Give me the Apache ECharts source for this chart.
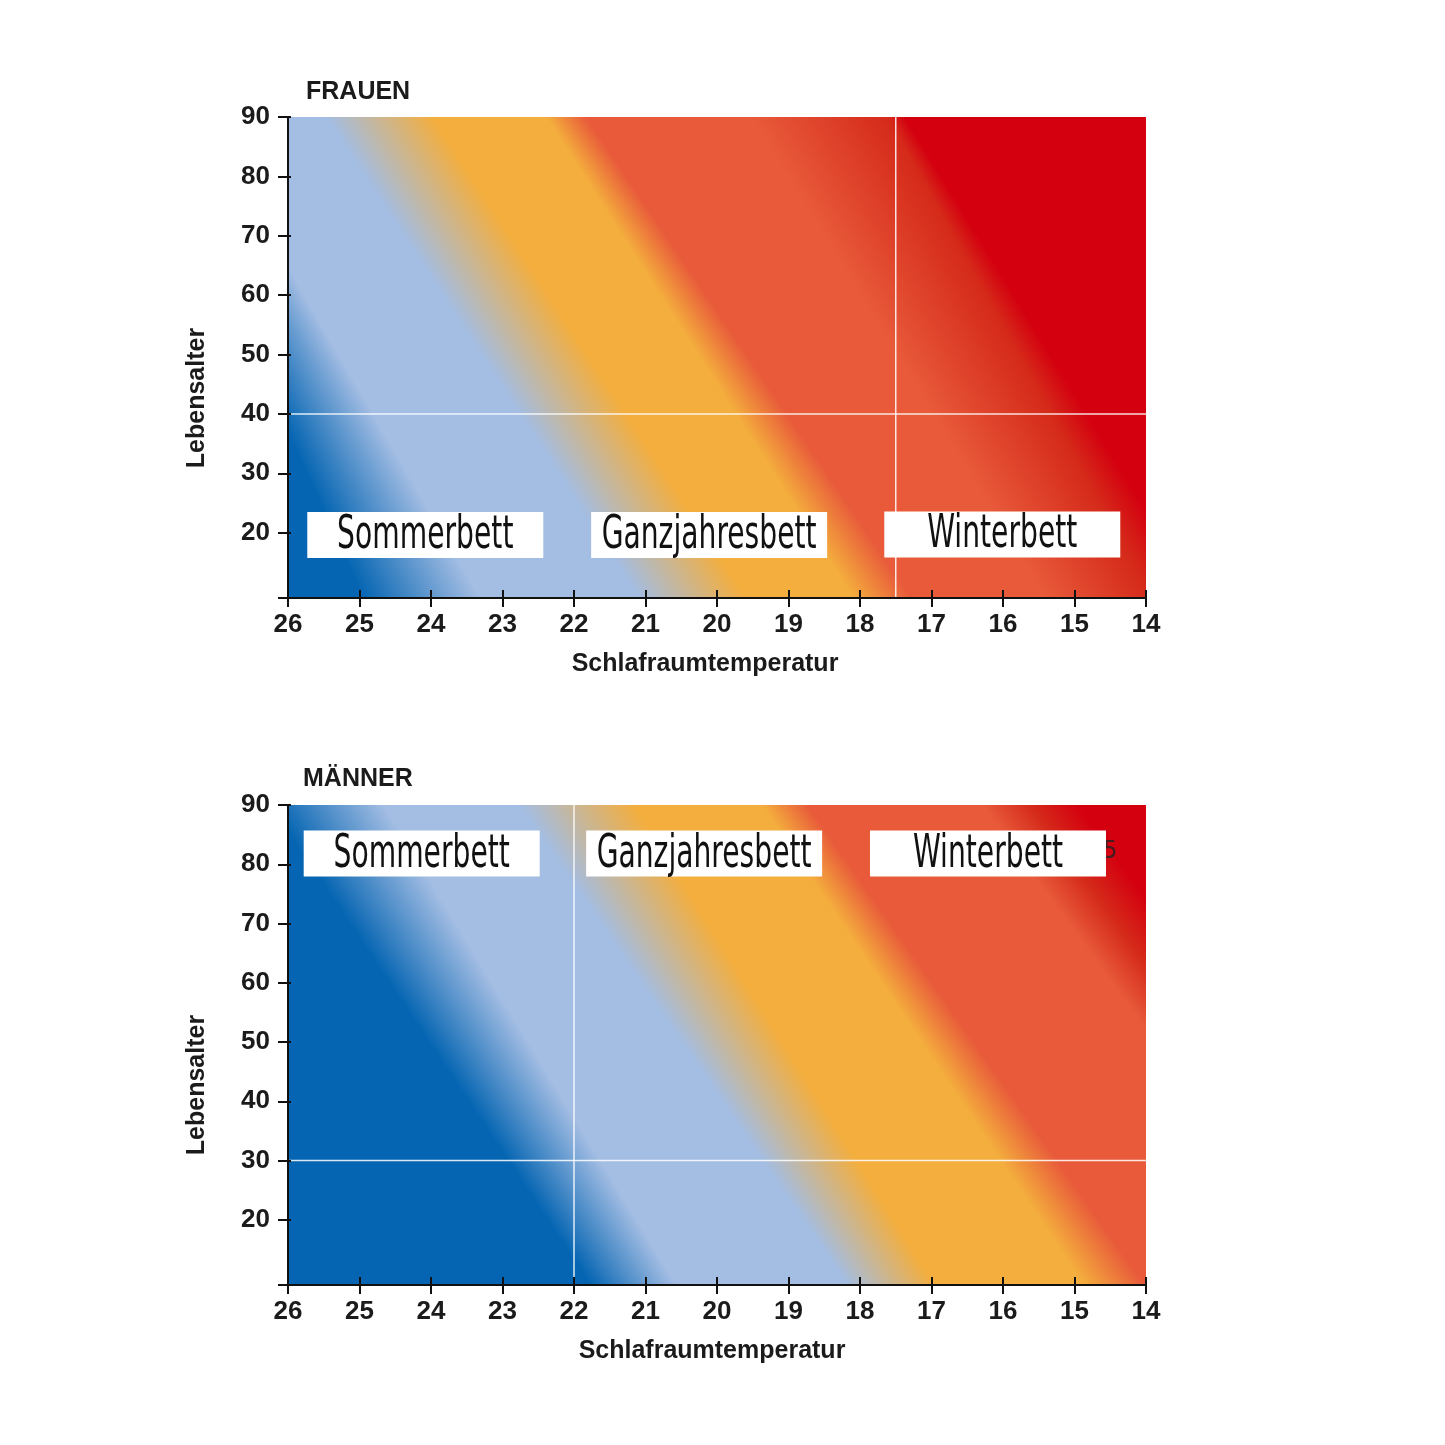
<!DOCTYPE html>
<html><head><meta charset="utf-8">
<script src="https://cdn.jsdelivr.net/npm/echarts@6/dist/echarts.min.js"></script>
<style>html,body{margin:0;padding:0;background:#fff}#chart{width:1445px;height:1445px}</style>
</head><body><div id="chart"></div>
<script>
// ---------------- data ----------------
const tempMin = 14, tempMax = 26;
const ageMin = 9, ageMax = 90;
const ageTicks = [9, 20, 30, 40, 50, 60, 70, 80, 90];
const ageTickLabels = [20, 30, 40, 50, 60, 70, 80, 90];

// colour bands (left -> right = warm room -> cold room)
const bandColors = ['#0565b2', '#a3bde3', '#a3bde3', '#f4ae3d', '#f4ae3d', '#e85a3a', '#e85a3a', '#d52a1a', '#d4000f'];
// temperature where each colour stop sits, at age 90 (top edge) and at the bottom edge
const frauenStopsTop    = [28.0, 27.23, 25.47, 23.97, 22.39, 21.83, 19.52, 17.61, 17.37];
const frauenStopsBottom = [24.95, 23.31, 21.09, 19.58, 18.10, 17.27, 15.40, 13.92, 13.24];
const maennerStopsTop    = [26.25, 24.66, 22.77, 21.15, 19.37, 18.73, 16.29, 15.62, 14.95];
const maennerStopsBottom = [21.76, 20.57, 18.18, 16.95, 14.87, 14.01, 11.40, 10.73, 10.05];

// white reference lines
const frauenRefTemp = 17.5, frauenRefAge = 40;
const maennerRefTemp = 22, maennerRefAge = 30;

// bed-type labels
const bedNames = ['Sommerbett', 'Ganzjahresbett', 'Winterbett'];
const frauenLabelTemps = [24.08, 20.11, 16.01];
const frauenLabelAges  = [19.6, 19.6, 19.7];
const maennerLabelTemps = [24.13, 20.18, 16.21];
const maennerLabelAges  = [81.8, 81.8, 81.8];
const strayDigit = ['5'];
const strayDigitTemp = [14.50];
const strayDigitAge = [82.2];

// ---------------- rendering ----------------
const TXT = '#1b1b1b';
const FONT = '"Liberation Sans", Arial, sans-serif';
const NARROW = '"Liberation Sans Narrow", "DejaVu Sans Condensed", sans-serif';
const LABEL_SIZE = 46;

// horizontal squeeze of the condensed label font
const measureCtx = document.createElement('canvas').getContext('2d');
measureCtx.font = LABEL_SIZE + 'px ' + NARROW;
const labelScale = 215 / measureCtx.measureText('Ganzjahresbett').width;

function gradientRenderer(stopsTop, stopsBottom) {
  return function (params, api) {
    const children = [];
    const n = 240;
    const left = api.coord([tempMax, ageMax])[0];
    const right = api.coord([tempMin, ageMax])[0];
    for (let i = 0; i < n; i++) {
      const aHi = ageMax - (ageMax - ageMin) * i / n;
      const aLo = ageMax - (ageMax - ageMin) * (i + 1) / n;
      const aMid = (aHi + aLo) / 2;
      const f = (ageMax - aMid) / (ageMax - ageMin);
      const yTop = api.coord([tempMax, aHi])[1];
      const yBot = api.coord([tempMax, aLo])[1];
      const px = stopsTop.map((t, k) => api.coord([t + (stopsBottom[k] - t) * f, aMid])[0]);
      for (let k = 1; k < px.length; k++) px[k] = Math.max(px[k], px[k - 1]);
      const x0 = px[0], x1 = px[px.length - 1];
      const colorStops = px.map((p, k) => ({ offset: (p - x0) / (x1 - x0), color: bandColors[k] }));
      children.push({
        type: 'rect',
        shape: { x: left, y: yTop, width: right - left, height: yBot - yTop + 1 },
        style: { fill: { type: 'linear', x: x0, y: 0, x2: x1, y2: 0, global: true, colorStops: colorStops } }
      });
    }
    return { type: 'group', children: children };
  };
}

function labelRenderer(params, api) {
  const c = api.coord([api.value(0), api.value(1)]);
  const name = bedNames[params.dataIndex];
  return {
    type: 'group',
    children: [
      { type: 'rect', shape: { x: c[0] - 118, y: c[1] - 23, width: 236, height: 46 }, style: { fill: '#ffffff' } },
      { type: 'group', x: c[0], y: c[1] + 1, scaleX: labelScale, scaleY: 1,
        children: [
          { type: 'text', x: 0, y: 0,
            style: { text: name, fill: '#111', fontSize: LABEL_SIZE, fontFamily: NARROW,
                     align: 'center', verticalAlign: 'middle', textAlign: 'center', textVerticalAlign: 'middle' } }
        ] }
    ]
  };
}

function makeGrid(top, height) {
  return { left: 288, width: 858, top: top, height: height, containLabel: false };
}
function mainX(gi) {
  return {
    type: 'value', gridIndex: gi, min: tempMin, max: tempMax, interval: 1, inverse: true, position: 'bottom', z: 10,
    axisLine: { show: true, onZero: false, lineStyle: { color: '#111', width: 2 } },
    axisTick: { show: true, inside: false, length: 9, lineStyle: { color: '#111', width: 2 } },
    axisLabel: { show: true, interval: 0, margin: 14, color: TXT, fontSize: 26, fontWeight: 'bold', fontFamily: FONT, showMinLabel: true, showMaxLabel: true },
    splitLine: { show: false }
  };
}
function innerX(gi) {
  return {
    type: 'value', gridIndex: gi, min: tempMin, max: tempMax, interval: 1, inverse: true, position: 'bottom', z: 10,
    axisLine: { show: false, onZero: false },
    axisTick: { show: true, inside: true, length: 8, lineStyle: { color: '#111', width: 2 } },
    axisLabel: { show: false }, splitLine: { show: false }
  };
}
function mainY(gi) {
  return {
    type: 'value', gridIndex: gi, min: ageMin, max: ageMax, position: 'left', z: 10,
    axisLine: { show: true, onZero: false, lineStyle: { color: '#111', width: 2 } },
    axisTick: { show: true, inside: false, length: 10, customValues: ageTicks, lineStyle: { color: '#111', width: 2 } },
    axisLabel: { show: true, margin: 18, customValues: ageTickLabels, color: TXT, fontSize: 26, fontWeight: 'bold', fontFamily: FONT },
    splitLine: { show: false }
  };
}
function innerY(gi) {
  return {
    type: 'value', gridIndex: gi, min: ageMin, max: ageMax, position: 'left', z: 10,
    axisLine: { show: false, onZero: false },
    axisTick: { show: true, inside: true, length: 3, customValues: ageTickLabels, lineStyle: { color: '#111', width: 2 } },
    axisLabel: { show: false }, splitLine: { show: false }
  };
}

function panelSeries(xi, yi, stopsTop, stopsBottom, refTemp, refAge, labelTemps, labelAges) {
  const refStyle = { color: 'rgba(255,255,255,0.85)', width: 1.5 };
  return [
    { type: 'custom', xAxisIndex: xi, yAxisIndex: yi, z: 1, silent: true, clip: true,
      renderItem: gradientRenderer(stopsTop, stopsBottom), data: [[20, 50]] },
    { type: 'line', xAxisIndex: xi, yAxisIndex: yi, z: 3, silent: true, symbol: 'none',
      lineStyle: refStyle, data: [[refTemp, ageMin], [refTemp, ageMax]] },
    { type: 'line', xAxisIndex: xi, yAxisIndex: yi, z: 3, silent: true, symbol: 'none',
      lineStyle: refStyle, data: [[tempMax, refAge], [tempMin, refAge]] },
    { type: 'custom', xAxisIndex: xi, yAxisIndex: yi, z: 5, silent: true,
      renderItem: labelRenderer, data: labelTemps.map((t, i) => [t, labelAges[i]]) }
  ];
}

const series = [].concat(
  panelSeries(0, 0, frauenStopsTop, frauenStopsBottom, frauenRefTemp, frauenRefAge, frauenLabelTemps, frauenLabelAges),
  panelSeries(2, 2, maennerStopsTop, maennerStopsBottom, maennerRefTemp, maennerRefAge, maennerLabelTemps, maennerLabelAges),
  [{ type: 'scatter', xAxisIndex: 2, yAxisIndex: 2, z: 4, silent: true, symbolSize: 0,
     data: strayDigitTemp.map((t, i) => [t, strayDigitAge[i]]),
     label: { show: true, position: 'inside', formatter: (p) => strayDigit[p.dataIndex],
              color: '#222', fontSize: 25, fontFamily: NARROW } }]
);

function txt(text, x, y, opts) {
  return Object.assign({
    type: 'text', x: x, y: y, z: 20,
    style: { text: text, fill: TXT, fontSize: 25, fontWeight: 'bold', fontFamily: FONT,
             align: 'center', verticalAlign: 'middle', textAlign: 'center', textVerticalAlign: 'middle' }
  }, opts || {});
}
const titleStyle = { fill: TXT, fontSize: 25, fontWeight: 'bold', fontFamily: FONT, align: 'left', verticalAlign: 'middle', textAlign: 'left', textVerticalAlign: 'middle' };

const graphic = [
  { type: 'text', x: 306, y: 92, z: 20, style: Object.assign({}, titleStyle, { text: 'FRAUEN' }) },
  { type: 'text', x: 303, y: 779, z: 20, style: Object.assign({}, titleStyle, { text: 'MÄNNER' }) },
  txt('Lebensalter', 197, 398, { rotation: Math.PI / 2 }),
  txt('Lebensalter', 197, 1085, { rotation: Math.PI / 2 }),
  txt('Schlafraumtemperatur', 705, 664),
  txt('Schlafraumtemperatur', 712, 1351)
];

const chart = echarts.init(document.getElementById('chart'), null, { renderer: 'canvas' });
chart.setOption({
  backgroundColor: '#ffffff',
  animation: false,
  grid: [makeGrid(117, 481), makeGrid(805, 480)],
  xAxis: [mainX(0), innerX(0), mainX(1), innerX(1)],
  yAxis: [mainY(0), innerY(0), mainY(1), innerY(1)],
  series: series,
  graphic: graphic
});
</script>
</body></html>
